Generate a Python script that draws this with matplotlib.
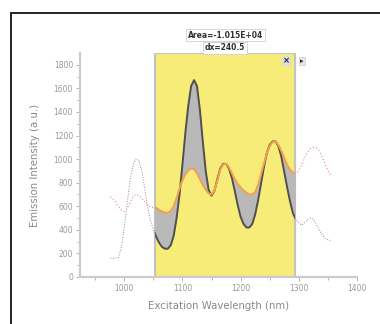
import numpy as np
import matplotlib
matplotlib.use("Agg")
import matplotlib.pyplot as plt
from matplotlib.patches import Rectangle

# excitation wavelength (nm)
wl = [976, 985, 990, 995, 1000, 1005, 1010, 1015, 1020, 1025, 1030, 1035, 1040,
      1045, 1050, 1055, 1060, 1065, 1070, 1075, 1080, 1085, 1090, 1095, 1100,
      1105, 1110, 1115, 1120, 1125, 1130, 1135, 1140, 1145, 1150, 1155, 1160,
      1165, 1170, 1175, 1180, 1185, 1190, 1195, 1200, 1205, 1210, 1215, 1220,
      1225, 1230, 1235, 1240, 1245, 1250, 1255, 1260, 1265, 1270, 1275, 1280,
      1285, 1290, 1295, 1300, 1305, 1310, 1315, 1320, 1325, 1330, 1335, 1340,
      1345, 1350, 1355]

# black trace
black = [160, 160, 165, 250, 420, 620, 820, 950, 1000, 990, 900, 760, 600,
         480, 400, 340, 290, 255, 240, 240, 270, 350, 500, 700, 950,
         1220, 1450, 1620, 1670, 1620, 1420, 1150, 900, 740, 690, 730, 830,
         920, 960, 960, 920, 840, 730, 610, 510, 450, 420, 420, 450,
         530, 650, 790, 930, 1050, 1120, 1150, 1150, 1110, 1020, 890, 760,
         640, 540, 490, 460, 440, 460, 490, 500, 490, 450, 400, 360,
         330, 315, 310]

# red trace
red = [680, 640, 600, 570, 555, 580, 630, 680, 700, 695, 670, 640, 610,
       595, 590, 585, 570, 555, 545, 545, 560, 600, 670, 750, 820,
       870, 905, 920, 915, 880, 830, 780, 740, 710, 700, 730, 820,
       910, 955, 960, 930, 880, 830, 790, 760, 735, 715, 700, 700,
       720, 780, 870, 960, 1050, 1110, 1145, 1150, 1120, 1070, 1010, 950,
       910, 885, 880, 900, 950, 1010, 1060, 1090, 1100, 1095, 1070, 1020,
       960, 900, 860]

x_lo, x_hi = 1053.3, 1293.8
xticks = [1000, 1100, 1200, 1300, 1400]
yticks = [0, 200, 400, 600, 800, 1000, 1200, 1400, 1600, 1800]

fig = plt.figure(figsize=(3.8, 3.24), dpi=100)
ax = fig.add_axes([80 / 380, 47 / 324, 277 / 380, 224 / 324])

# outer frame (cut by the picture edge on right/bottom)
fig.patches.append(Rectangle((11 / 380, -0.2), 2, 0.2 + 1 - 13 / 324,
                             transform=fig.transFigure, fill=False,
                             ec='#222222', lw=1.4, clip_on=False))

span = ax.axvspan(x_lo, x_hi, fc='#f8ec78', ec='#c4c4c4', lw=1.6, zorder=1)

ax.plot(wl, black, ls=':', color='#8a8a8a', lw=0.7, zorder=2)
ax.plot(wl, red, ls=':', color='#f0a0a0', lw=0.9, zorder=2)

fill = ax.fill_between(wl, black, red, color='#b9b9b9', lw=0, zorder=3)
l1, = ax.plot(wl, black, color='#505050', lw=1.4, zorder=4)
l2, = ax.plot(wl, red, color='#f2a050', lw=1.4, zorder=4)
for a in (fill, l1, l2):
    a.set_clip_path(span)

ax.set_xlim(924, 1400)
ax.set_ylim(0, 1900)
ax.set_xticks(xticks)
ax.set_yticks(yticks)
ax.set_xticks(np.arange(950, 1400, 100), minor=True)
ax.set_yticks(np.arange(100, 1900, 200), minor=True)

for s in ('top', 'right'):
    ax.spines[s].set_visible(False)
for s in ('left', 'bottom'):
    ax.spines[s].set_color('#cccccc')
    ax.spines[s].set_linewidth(1.6)
ax.tick_params(which='both', direction='out', color='#aaaaaa', labelcolor='#999999',
               labelsize=5.5, width=0.6)
ax.tick_params(which='major', length=3, pad=2)
ax.tick_params(which='minor', length=2)

ax.set_xlabel('Excitation Wavelength (nm)', color='#888888', fontsize=7.3, labelpad=6)
ax.set_ylabel('Emission Intensity (a.u.)', color='#888888', fontsize=7.3, labelpad=10)

# integration readout
mid = (x_lo + x_hi) / 2
ax.text(mid, 2050, 'Area=-1.015E+04', ha='center', va='center', fontsize=5.5,
        fontweight='bold', color='#333333', clip_on=False,
        bbox=dict(fc='white', ec='#d0d0d0', lw=0.6, pad=1.2))
ax.text(mid, 1945, 'dx=240.5', ha='center', va='center', fontsize=5.5,
        fontweight='bold', color='#333333', clip_on=False,
        bbox=dict(fc='white', ec='#d0d0d0', lw=0.6, pad=1.2))

ax.text(1279, 1832, '×', ha='center', va='center', fontsize=6, fontweight='bold',
        color='#222222', bbox=dict(fc='#dddddd', ec='none', pad=0.6))
ax.text(1305, 1832, '▸', ha='center', va='center', fontsize=5, color='#222222',
        clip_on=False, bbox=dict(fc='#e6e6e6', ec='#cccccc', lw=0.5, pad=0.8))

fig.savefig('out.png', dpi=100)
